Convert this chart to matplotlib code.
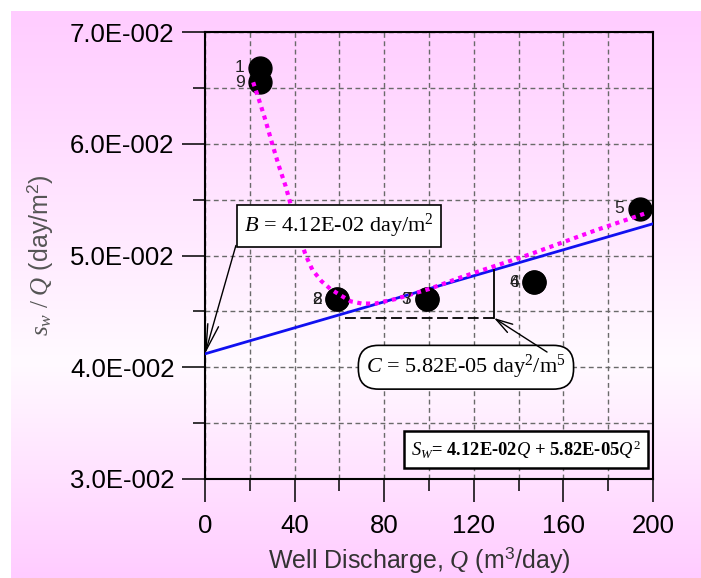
import numpy as np
import matplotlib
matplotlib.use("Agg")
import matplotlib.pyplot as plt
from matplotlib.colors import LinearSegmentedColormap

plt.rcParams['font.family'] = 'Liberation Sans'
plt.rcParams['mathtext.fontset'] = 'custom'
plt.rcParams['mathtext.rm'] = 'Liberation Serif'
plt.rcParams['mathtext.it'] = 'Liberation Serif:italic'
plt.rcParams['mathtext.bf'] = 'Liberation Serif:bold'
plt.rcParams['mathtext.sf'] = 'Liberation Sans'

# Step-drawdown test: step number, discharge and specific drawdown
step_ids = ['1', '2', '3', '4', '5', '6', '7', '8', '9']
discharge = [24.5, 59, 99, 147, 194, 147, 99, 59, 24.5]
specific_drawdown = [0.0668, 0.0461, 0.0461, 0.0476, 0.0542,
                     0.0476, 0.0461, 0.0461, 0.0655]

# Smoothed trend through the observed steps
trend_q = [21.5, 24, 27, 30, 33, 36, 39, 42, 45, 48, 52, 56, 60, 65,
           70, 76, 85, 100, 115, 130, 145, 160, 175, 197]
trend_s = [0.0655, 0.0640, 0.0621, 0.0600, 0.0580, 0.0562, 0.0540,
           0.0518, 0.0500, 0.0487, 0.0477, 0.0470, 0.0465, 0.0459,
           0.0457, 0.0457, 0.0461, 0.0470, 0.0481, 0.0491, 0.0501,
           0.0512, 0.0523, 0.0538]

# Jacob's well-loss fit: s_w/Q = B + C*Q
B = 4.12e-2
C = 5.82e-5

x_ticks = [0, 40, 80, 120, 160, 200]
y_ticks = [0.03, 0.04, 0.05, 0.06, 0.07]
y_tick_labels = ['3.0E-002', '4.0E-002', '5.0E-002', '6.0E-002', '7.0E-002']

W, H = 701, 578
fig = plt.figure(figsize=(W / 100, H / 100), dpi=100)
fig.patch.set_facecolor('white')

# pink vertical gradient backdrop
bg = fig.add_axes([11 / W, 0, 1 - 11 / W, 1 - 11 / H], zorder=-10)
bg.axis('off')
cmap = LinearSegmentedColormap.from_list(
    'backdrop', [(0, '#FFCCFF'), (0.62, '#FFFAFF'), (1, '#FFCCFF')])
grad = np.linspace(0, 1, 256).reshape(-1, 1)
bg.imshow(grad, aspect='auto', cmap=cmap, extent=[0, 1, 0, 1])

ax = fig.add_axes([205 / W, 1 - 479 / H, 448 / W, 447 / H])
ax.set_facecolor('none')
ax.set_xlim(0, 200)
ax.set_ylim(0.03, 0.07)

ax.set_xticks(x_ticks)
ax.set_xticks(np.arange(20, 200, 40), minor=True)
ax.set_yticks(y_ticks)
ax.set_yticklabels(y_tick_labels)
ax.set_yticks(np.arange(0.035, 0.07, 0.01), minor=True)
ax.tick_params(which='major', direction='out', length=16.5, width=1.1,
               labelsize=18.5, top=False, right=False)
ax.tick_params(which='minor', direction='out', length=8.5, width=1.1,
               top=False, right=False)
ax.tick_params(axis='x', which='major', pad=9)
ax.tick_params(axis='y', which='major', pad=5.5)
ax.grid(True, which='both', color='#6a6a6a', linestyle=(0, (3.5, 2.5)),
        linewidth=1.0)
ax.set_axisbelow(True)
for s in ax.spines.values():
    s.set_linewidth(1.5)
    s.set_color('black')

# fitted straight line
q_line = np.array([0, 200])
ax.plot(q_line, B + C * q_line, color='#1010F0', lw=2.0, zorder=3)

# observed steps
ax.plot(discharge, specific_drawdown, 'o', color='black', ms=16.5,
        zorder=4, clip_on=False)
for sid, q, s in zip(step_ids, discharge, specific_drawdown):
    ax.annotate(sid, (q, s), xytext=(-11, 0), textcoords='offset points',
                ha='right', va='center', fontsize=12.5, color='#222222',
                zorder=6)

# trend curve
ax.plot(trend_q, trend_s, color='#FF00FF', lw=3.0,
        linestyle=(0, (1, 1.1)), zorder=5)

# slope construction
q_corner = 129
s_corner = 0.04441
ax.plot([62.5, q_corner], [s_corner, s_corner], color='black', lw=1.3,
        linestyle=(0, (6, 2.5)), zorder=3)
ax.plot([q_corner, q_corner], [s_corner, B + C * q_corner], color='black',
        lw=1.3, zorder=3)

# intercept annotation
ax.text(59.8, 0.05264, r"$B$ = %s day/m$^2$" % f"{B:.2E}",
        fontsize=16, family='Liberation Serif', ha='center', va='center',
        bbox=dict(boxstyle='square,pad=0.32', fc='white', ec='black', lw=1.2),
        zorder=7)
ax.annotate('', xy=(0, B), xytext=(13.8, 0.0509),
            arrowprops=dict(arrowstyle='->,head_length=1.9,head_width=0.4',
                            color='black', lw=1.0, shrinkA=0, shrinkB=0),
            zorder=7)

# slope annotation
ax.text(116.5, 0.0400, r"$C$ = %s day$^2$/m$^5$" % f"{C:.2E}",
        fontsize=16, family='Liberation Serif', ha='center', va='center',
        bbox=dict(boxstyle='round,pad=0.35,rounding_size=0.9', fc='white',
                  ec='black', lw=1.2),
        zorder=7)
ax.annotate('', xy=(q_corner, s_corner), xytext=(152.7, 0.04136),
            arrowprops=dict(arrowstyle='->,head_length=1.2,head_width=0.35',
                            color='black', lw=1.0, shrinkA=0, shrinkB=0),
            zorder=7)

# drawdown equation
ax.text(143.3, 0.03264,
        r"$S_W$= %s$Q$ + %s$Q^2$" % (f"{B:.2E}", f"{C:.2E}"),
        fontsize=13.3, family='Liberation Serif', fontweight='bold',
        ha='center', va='center',
        bbox=dict(boxstyle='square,pad=0.4', fc='white', ec='black', lw=1.8),
        zorder=7)

ax.set_xlabel(r"Well Discharge, $Q$ (m$^{\mathsf{3}}$/day)", fontsize=18,
              color='#333333', va='center')
ax.xaxis.set_label_coords(0.478, -0.182)
ax.set_ylabel(r"$s_w\ /\ Q$ (day/m$^{\mathsf{2}}$)", fontsize=18,
              color='#555555', va='center')
ax.yaxis.set_label_coords(-0.368, 0.5)

fig.savefig('out.png', dpi=100)
